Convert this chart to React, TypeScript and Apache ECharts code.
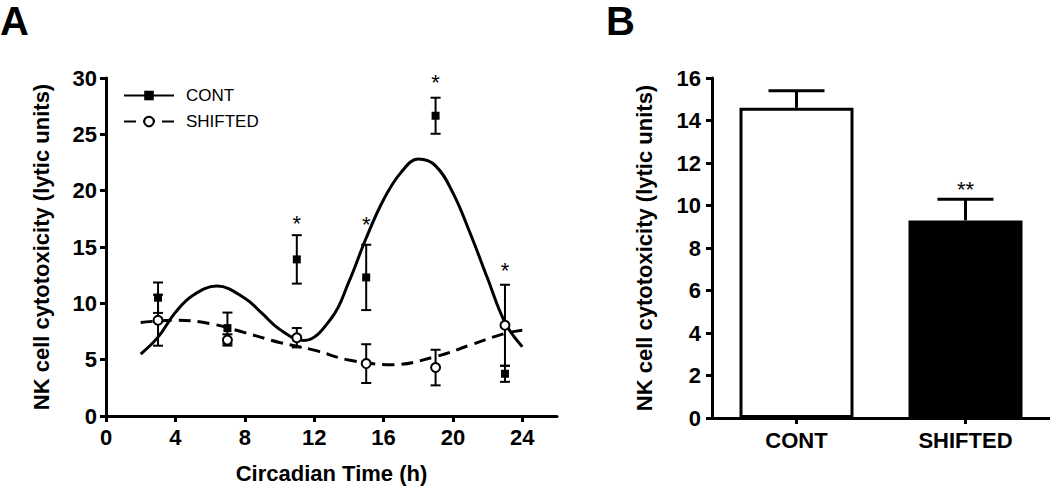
import React, { useEffect, useRef } from "react";
import * as echarts from "echarts";

// ---- Panel A data ----
const timePoints = [3, 7, 11, 15, 19, 23];
const contMean = [10.5, 7.8, 13.9, 12.3, 26.65, 3.75];
const contSem = [1.35, 1.38, 2.15, 2.9, 1.6, 0.72];
const shiftMean = [8.5, 6.75, 6.95, 4.65, 4.3, 8.05];
const shiftSem = [2.26, 0.5, 0.86, 1.72, 1.58, 3.6];

const contCurveX = [2, 3, 4, 5, 6.4, 8, 9, 10, 11.4, 13, 14, 15, 16, 17, 18, 19, 20, 21, 22, 23, 24];
const contCurve = [5.5, 7.0, 9.2, 10.7, 11.53, 10.45, 9.1, 7.7, 6.7, 8.7, 11.9, 15.8, 19.2, 21.6, 22.8, 22.2, 19.8, 16.2, 12.2, 8.3, 6.15];
const shiftCurveX = [2, 4, 6, 8, 10, 12, 14, 16.5, 19, 21, 23, 24];
const shiftCurve = [8.3, 8.5, 8.2, 7.4, 6.53, 5.85, 4.97, 4.55, 5.27, 6.3, 7.33, 7.62];

const starX = [11, 15, 19, 23];
const starY = [17.1, 17.0, 29.6, 12.9];

// ---- Panel B data ----
const groups = ["CONT", "SHIFTED"];
const groupMean = [14.6, 9.3];
const groupSem = [0.8, 1.0];
const groupStar = ["", "**"];
const groupStarY = [0, 10.75];

const FONT = "'Liberation Sans', Arial, Helvetica, sans-serif";

const errRender = (capHalf: number, upOnly: boolean) => (params: any, api: any) => {
  const x = api.value(0);
  const m = api.value(1);
  const s = api.value(2);
  const top = api.coord([x, m + s]);
  const bot = upOnly ? api.coord([x, m]) : api.coord([x, m - s]);
  const st = { stroke: "#000", lineWidth: upOnly ? 3 : 2 };
  const children: any[] = [
    { type: "line", shape: { x1: top[0], y1: top[1], x2: bot[0], y2: bot[1] }, style: st },
    { type: "line", shape: { x1: top[0] - capHalf, y1: top[1], x2: top[0] + capHalf, y2: top[1] }, style: st },
  ];
  if (!upOnly) {
    children.push({ type: "line", shape: { x1: bot[0] - capHalf, y1: bot[1], x2: bot[0] + capHalf, y2: bot[1] }, style: st });
  }
  return { type: "group", children };
};

export default function App() {
  const ref = useRef<HTMLDivElement>(null);
  useEffect(() => {
    if (!ref.current) return;
    const chart = echarts.init(ref.current, null, { renderer: "svg" });
    const axisLineStyle = { color: "#000", width: 3 };
    const tickLabel = { color: "#000", fontFamily: FONT, fontWeight: "bold" as const, fontSize: 22 };
    const titleText = { color: "#000", fontFamily: FONT, fontWeight: "bold" as const, fontSize: 22 };
    const starLabel = { color: "#000", fontFamily: FONT, fontSize: 22 };

    const option: any = {
      animation: false,
      backgroundColor: "#fff",
      grid: [
        { left: 106, top: 78, width: 451, height: 340 },
        { left: 712, top: 78, width: 338, height: 340 },
      ],
      xAxis: [
        {
          gridIndex: 0,
          type: "value",
          min: 0,
          max: 26,
          interval: 4,
          name: "Circadian Time (h)",
          nameLocation: "middle",
          nameGap: 46,
          nameTextStyle: titleText,
          axisLine: { show: true, lineStyle: axisLineStyle },
          axisTick: { show: true, length: 6, lineStyle: axisLineStyle },
          axisLabel: { ...tickLabel, margin: 10, showMaxLabel: false },
          splitLine: { show: false },
        },
        {
          gridIndex: 1,
          type: "category",
          data: groups,
          axisLine: { show: true, lineStyle: axisLineStyle },
          axisTick: { show: true, length: 6, alignWithLabel: true, lineStyle: axisLineStyle },
          axisLabel: { ...tickLabel, margin: 11 },
          splitLine: { show: false },
        },
      ],
      yAxis: [
        {
          gridIndex: 0,
          type: "value",
          min: 0,
          max: 30,
          interval: 5,
          name: "NK cell cytotoxicity (lytic units)",
          nameLocation: "middle",
          nameRotate: 90,
          nameGap: 54,
          nameTextStyle: titleText,
          axisLine: { show: true, lineStyle: axisLineStyle },
          axisTick: { show: true, length: 6, lineStyle: axisLineStyle },
          axisLabel: { ...tickLabel, margin: 9 },
          splitLine: { show: false },
        },
        {
          gridIndex: 1,
          type: "value",
          min: 0,
          max: 16,
          interval: 2,
          name: "NK cell cytotoxicity (lytic units)",
          nameLocation: "middle",
          nameRotate: 90,
          nameGap: 57,
          nameTextStyle: titleText,
          axisLine: { show: true, lineStyle: axisLineStyle },
          axisTick: { show: true, length: 6, lineStyle: axisLineStyle },
          axisLabel: { ...tickLabel, margin: 11 },
          splitLine: { show: false },
        },
      ],
      legend: {
        data: ["CONT", "SHIFTED"],
        orient: "vertical",
        left: 123,
        top: 87,
        padding: 0,
        itemWidth: 50,
        itemHeight: 12,
        itemGap: 9,
        selectedMode: false,
        textStyle: { color: "#000", fontFamily: FONT, fontSize: 17, padding: [0, 0, 0, 7] },
      },
      series: [
        {
          name: "CONT",
          type: "line",
          xAxisIndex: 0,
          yAxisIndex: 0,
          data: contCurveX.map((x, i) => [x, contCurve[i]]),
          smooth: 0.4,
          showSymbol: false,
          symbol: "rect",
          itemStyle: { color: "#000" },
          lineStyle: { color: "#000", width: 3 },
          z: 2,
        },
        {
          name: "SHIFTED",
          type: "line",
          xAxisIndex: 0,
          yAxisIndex: 0,
          data: shiftCurveX.map((x, i) => [x, shiftCurve[i]]),
          smooth: 0.4,
          showSymbol: false,
          symbol: "emptyCircle",
          itemStyle: { color: "#000" },
          lineStyle: { color: "#000", width: 3, type: [12, 7] },
          z: 2,
        },
        {
          type: "custom",
          xAxisIndex: 0,
          yAxisIndex: 0,
          renderItem: errRender(5, false),
          data: timePoints.map((x, i) => [x, contMean[i], contSem[i]]),
          z: 3,
        },
        {
          type: "custom",
          xAxisIndex: 0,
          yAxisIndex: 0,
          renderItem: errRender(5, false),
          data: timePoints.map((x, i) => [x, shiftMean[i], shiftSem[i]]),
          z: 3,
        },
        {
          type: "scatter",
          xAxisIndex: 0,
          yAxisIndex: 0,
          symbol: "rect",
          symbolSize: 8,
          itemStyle: { color: "#000", opacity: 1 },
          data: timePoints.map((x, i) => [x, contMean[i]]),
          z: 5,
        },
        {
          type: "scatter",
          xAxisIndex: 0,
          yAxisIndex: 0,
          symbol: "circle",
          symbolSize: 9,
          itemStyle: { color: "#fff", borderColor: "#000", borderWidth: 2, opacity: 1 },
          data: timePoints.map((x, i) => [x, shiftMean[i]]),
          z: 5,
        },
        {
          type: "scatter",
          xAxisIndex: 0,
          yAxisIndex: 0,
          symbolSize: 1,
          itemStyle: { color: "transparent", opacity: 1 },
          label: { show: true, position: "inside", formatter: "*", ...starLabel },
          data: starX.map((x, i) => [x, starY[i]]),
          z: 6,
        },
        {
          type: "bar",
          xAxisIndex: 1,
          yAxisIndex: 1,
          barWidth: 114,
          data: groupMean.map((v, i) => ({
            value: v,
            itemStyle: { color: i === 0 ? "#fff" : "#000", borderColor: "#000", borderWidth: 3 },
          })),
          z: 2,
        },
        {
          type: "custom",
          xAxisIndex: 1,
          yAxisIndex: 1,
          renderItem: errRender(28, true),
          data: groupMean.map((v, i) => [i, v, groupSem[i]]),
          z: 3,
        },
        {
          type: "scatter",
          xAxisIndex: 1,
          yAxisIndex: 1,
          symbolSize: 1,
          itemStyle: { color: "transparent", opacity: 1 },
          label: {
            show: true,
            position: "inside",
            formatter: (p: any) => groupStar[p.dataIndex],
            ...starLabel,
          },
          data: groups.map((g, i) => [g, groupStarY[i]]),
          z: 6,
        },
      ],
      graphic: [
        {
          type: "text",
          left: 0,
          top: 1,
          style: { text: "A", fill: "#000", font: `bold 40px ${FONT}` },
        },
        {
          type: "text",
          left: 606,
          top: 1,
          style: { text: "B", fill: "#000", font: `bold 40px ${FONT}` },
        },
      ],
    };
    chart.setOption(option);
    return () => chart.dispose();
  }, []);
  return (
    <div
      ref={ref}
      style={{ position: "absolute", left: 0, top: 0, width: 1050, height: 489 }}
    />
  );
}
